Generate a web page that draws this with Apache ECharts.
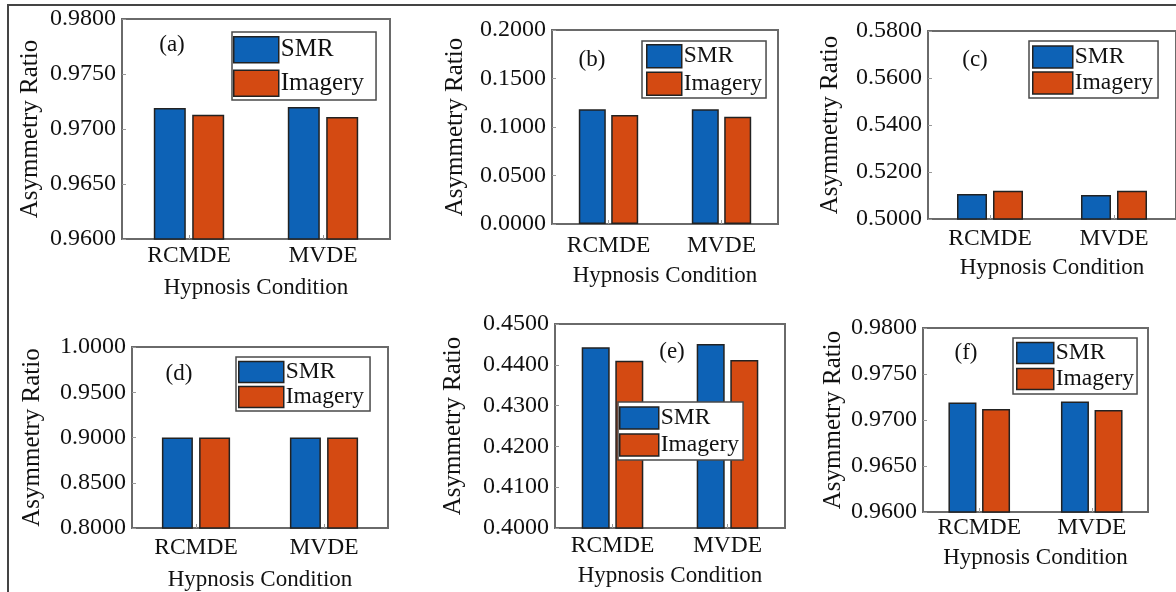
<!DOCTYPE html>
<html><head><meta charset="utf-8">
<script src="https://cdn.jsdelivr.net/npm/echarts@6/dist/echarts.min.js"></script>
<style>html,body{margin:0;padding:0;background:#fff}#c{width:1176px;height:592px}</style>
</head><body><div id="c"></div>
<script>
// ---------- data ----------
const categories = ['RCMDE', 'MVDE'];
const seriesNames = ['SMR', 'Imagery'];
const panelLabels = ['(a)', '(b)', '(c)', '(d)', '(e)', '(f)'];
const yAxisName = 'Asymmetry Ratio';
const xAxisName = 'Hypnosis Condition';

const smrA = [0.9719, 0.9720];
const imageryA = [0.9713, 0.9711];
const smrB = [0.1182, 0.1182];
const imageryB = [0.1124, 0.1106];
const smrC = [0.5106, 0.5102];
const imageryC = [0.5120, 0.5120];
const smrD = [0.9000, 0.9000];
const imageryD = [0.9000, 0.9000];
const smrE = [0.4443, 0.4451];
const imageryE = [0.4410, 0.4412];
const smrF = [0.9719, 0.9720];
const imageryF = [0.9712, 0.9711];

const yMin = [0.96, 0.00, 0.50, 0.80, 0.40, 0.96];
const yMax = [0.98, 0.20, 0.58, 1.00, 0.45, 0.98];
const yStep = [0.005, 0.05, 0.02, 0.05, 0.01, 0.005];

const smrData = [smrA, smrB, smrC, smrD, smrE, smrF];
const imageryData = [imageryA, imageryB, imageryC, imageryD, imageryE, imageryF];

// ---------- layout ----------
const FONT = "'Liberation Serif','Times New Roman',serif";
const FS = 23;
const grids = [
  {left: 122, top: 19, width: 268, height: 220},
  {left: 552, top: 30, width: 226, height: 194},
  {left: 928, top: 31, width: 256, height: 188},
  {left: 132, top: 347, width: 256, height: 184},
  {left: 555, top: 324, width: 230, height: 204},
  {left: 923, top: 328, width: 225, height: 184}
];
const barW = [32, 27, 30, 31, 28, 28];
const xLabelMargin = [5, 10, 8, 8, 6, 4];
const xNameGap = [37, 40, 37, 40, 36, 34];
const yNameGap = [79, 84, 85, 87, 89, 77];
const legendCfg = [
  {left: 232, top: 32, w: 45, h: 26, gap: 6, pad: [4, 12, 3, 1], fs: 25},
  {left: 642, top: 41, w: 35, h: 23, gap: 3, pad: [3, 4, 2, 4], fs: 23.5},
  {left: 1029, top: 41, w: 40, h: 22, gap: 2, pad: [4, 5, 3, 3], fs: 23.5},
  {left: 236, top: 357, w: 45, h: 21, gap: 1, pad: [3, 6, 2, 2], fs: 23.5},
  {left: 618, top: 402, w: 39, h: 22, gap: 3, pad: [4, 4, 3, 1], fs: 23.5},
  {left: 1013, top: 338, w: 37, h: 21, gap: 2, pad: [3, 3, 3, 3], fs: 23.5}
];
const labelPos = [[172, 45], [592, 60], [975, 60], [179, 374], [672, 352], [966, 353]];

const COLORS = ['#0d62b6', '#d44a12'];
const BOX = '#6a6a6a';

const option = {
  animation: false,
  backgroundColor: '#fff',
  textStyle: {fontFamily: FONT, color: '#111'},
  grid: [], xAxis: [], yAxis: [], series: [], legend: [],
  graphic: []
};

for (let i = 0; i < 6; i++) {
  option.grid.push(Object.assign({show: true, borderColor: BOX, borderWidth: 2, backgroundColor: '#fff', containLabel: false}, grids[i]));
  option.xAxis.push({
    type: 'category', gridIndex: i, data: categories,
    name: xAxisName, nameLocation: 'middle', nameGap: xNameGap[i],
    nameTextStyle: {fontFamily: FONT, fontSize: FS, color: '#111'},
    axisLine: {show: false},
    axisTick: {show: true, inside: true, alignWithLabel: true, length: 4, lineStyle: {color: '#999'}},
    axisLabel: {fontFamily: FONT, fontSize: 23.5, color: '#111', margin: xLabelMargin[i]},
    splitLine: {show: false}
  });
  option.yAxis.push({
    type: 'value', gridIndex: i, min: yMin[i], max: yMax[i], interval: yStep[i],
    name: yAxisName, nameLocation: 'middle', nameGap: yNameGap[i],
    nameTextStyle: {fontFamily: FONT, fontSize: 25, color: '#111'},
    axisLine: {show: false},
    axisTick: {show: true, inside: true, length: 4, lineStyle: {color: '#999'}},
    axisLabel: {fontFamily: FONT, fontSize: 24, color: '#111', margin: 6, formatter: v => v.toFixed(4)},
    splitLine: {show: false}
  });
  const dataSets = [smrData[i], imageryData[i]];
  for (let s = 0; s < 2; s++) {
    option.series.push({
      type: 'bar', name: seriesNames[s], xAxisIndex: i, yAxisIndex: i,
      data: dataSets[s], barWidth: barW[i], barGap: '20%',
      itemStyle: {color: COLORS[s], borderColor: '#222', borderWidth: 1.5}
    });
  }
  const L = legendCfg[i];
  option.legend.push({
    data: seriesNames, orient: 'vertical', left: L.left, top: L.top,
    itemWidth: L.w, itemHeight: L.h, itemGap: L.gap, padding: L.pad,
    icon: 'rect', backgroundColor: '#fff', borderColor: '#4a4a4a', borderWidth: 1.5,
    selectedMode: false,
    textStyle: {fontFamily: FONT, fontSize: L.fs, color: '#111', padding: [0, 0, 0, -3]},
    itemStyle: {borderColor: '#222', borderWidth: 1.5}
  });
  option.graphic.push({
    type: 'text', x: labelPos[i][0], y: labelPos[i][1], z: 10,
    style: {text: panelLabels[i], font: FS + 'px ' + FONT, fill: '#111', textAlign: 'center', textVerticalAlign: 'middle'}
  });
}
option.graphic.push({
  type: 'polyline', z: 20,
  shape: {points: [[8, 592], [8, 5], [1176, 5]]},
  style: {stroke: '#444', lineWidth: 2, fill: null}
});

const chart = echarts.init(document.getElementById('c'), null, {renderer: 'canvas'});
chart.setOption(option);
</script>
</body></html>
